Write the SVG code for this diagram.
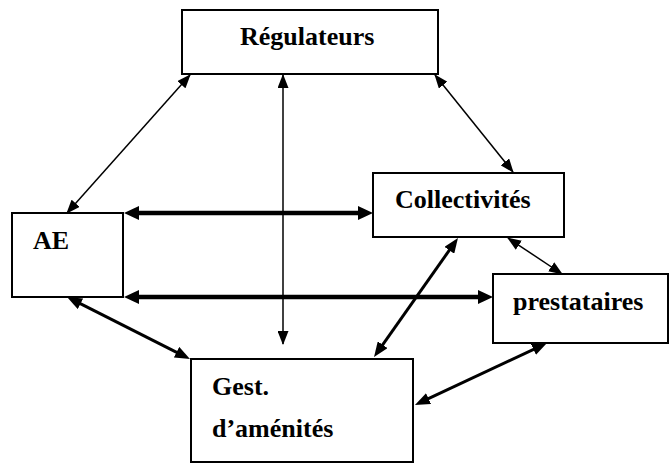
<svg xmlns="http://www.w3.org/2000/svg" width="670" height="464" viewBox="0 0 670 464">
  <style>
    .box { fill: #fff; stroke: #000; stroke-width: 2; }
    .lbl { font-family: 'Liberation Serif', serif; font-weight: 700; font-size: 26px; fill: #000; }
    .thin { stroke: #000; stroke-width: 1.5; fill: none; marker-start: url(#headThin); marker-end: url(#headThin); }
    .mid { stroke: #000; stroke-width: 3; fill: none; marker-start: url(#headMid); marker-end: url(#headMid); }
    .bold { stroke: #000; stroke-width: 4.5; fill: none; marker-start: url(#headBold); marker-end: url(#headBold); }
  </style>
  <defs>
    <marker id="headThin" viewBox="0 0 14 11" markerUnits="userSpaceOnUse" markerWidth="14" markerHeight="11" refX="13" refY="5.5" orient="auto-start-reverse">
      <path d="M0,0 L14,5.5 L0,11 z" fill="#000"/>
    </marker>
    <marker id="headMid" viewBox="0 0 15 12" markerUnits="userSpaceOnUse" markerWidth="15" markerHeight="12" refX="9" refY="6" orient="auto-start-reverse">
      <path d="M0,0 L15,6 L0,12 z" fill="#000"/>
    </marker>
    <marker id="headBold" viewBox="0 0 15 14" markerUnits="userSpaceOnUse" markerWidth="15" markerHeight="14" refX="8" refY="7" orient="auto-start-reverse">
      <path d="M0,0 L15,7 L0,14 z" fill="#000"/>
    </marker>
  </defs>

  <g id="connectors">
    <!-- thin two-way links -->
    <line class="thin" x1="67" y1="213" x2="190" y2="75"/>
    <line class="thin" x1="435" y1="75" x2="513" y2="172"/>
    <line class="thin" x1="283" y1="75" x2="283" y2="344"/>
    <line class="thin" x1="508" y1="238" x2="562" y2="274"/>
    <!-- bold horizontal links from AE -->
    <line class="bold" x1="131" y1="213" x2="366" y2="213"/>
    <line class="bold" x1="131" y1="297" x2="486" y2="297"/>
    <!-- medium diagonal links -->
    <line class="mid" x1="72.4" y1="299.7" x2="184.6" y2="356.3"/>
    <line class="mid" x1="454.5" y1="242.9" x2="377.5" y2="352.1"/>
    <line class="mid" x1="541.6" y1="345.6" x2="420.4" y2="402.4"/>
  </g>

  <g id="regulateurs">
    <rect class="box" x="182" y="10" width="256" height="64"/>
    <text class="lbl" x="240" y="45">Régulateurs</text>
  </g>

  <g id="ae">
    <rect class="box" x="12" y="213" width="111" height="84"/>
    <text class="lbl" x="33" y="249">AE</text>
  </g>

  <g id="collectivites">
    <rect class="box" x="373" y="173" width="191" height="64"/>
    <text class="lbl" x="395" y="208">Collectivités</text>
  </g>

  <g id="prestataires">
    <rect class="box" x="493" y="274" width="175" height="69"/>
    <text class="lbl" x="513" y="310">prestataires</text>
  </g>

  <g id="gestionnaires">
    <rect class="box" x="191" y="359" width="222" height="103"/>
    <text class="lbl" x="212" y="395">Gest.</text>
    <text class="lbl" x="212" y="437">d’aménités</text>
  </g>
</svg>
